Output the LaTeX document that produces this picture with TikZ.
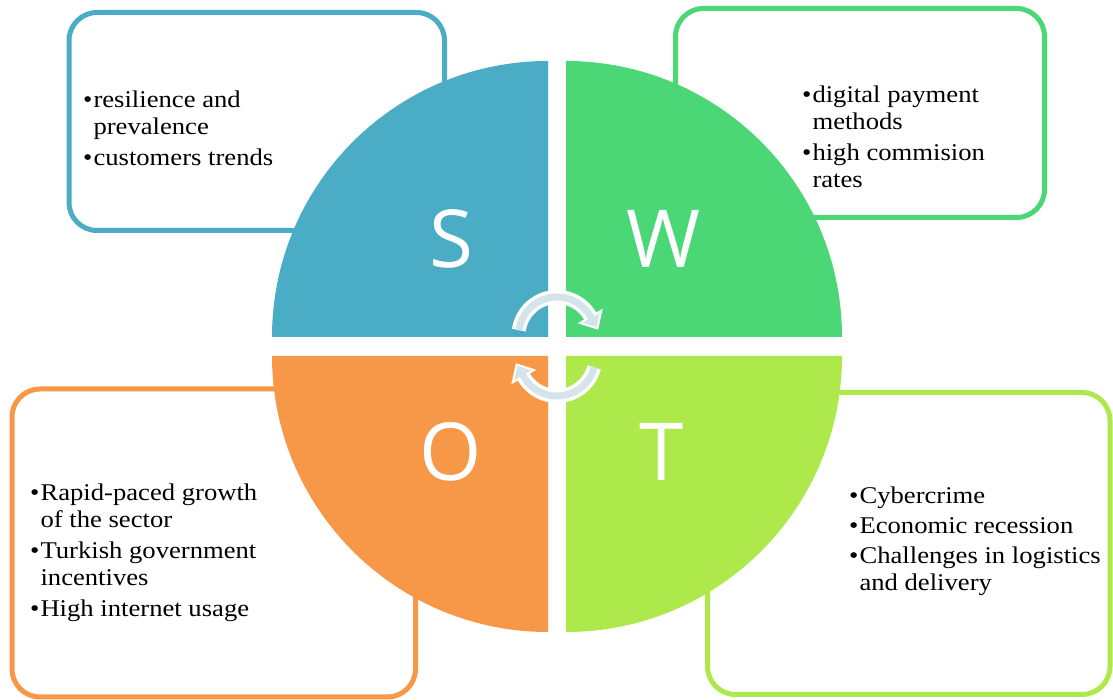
\documentclass[tikz,border=0pt]{standalone}
\usepackage{fontspec}
\setmainfont[FakeStretch=1.11]{Liberation Serif}
\newfontfamily\swotletter{Open Sans}
\usetikzlibrary{arrows.meta}
\definecolor{sblue}{RGB}{75,172,198}
\definecolor{wgreen}{RGB}{75,215,118}
\definecolor{oorange}{RGB}{247,152,72}
\definecolor{tlime}{RGB}{173,233,74}
\definecolor{cyclec}{RGB}{213,227,235}

\begin{document}
\begin{tikzpicture}[x=1pt, y=1pt,
    box/.style={draw, line width=5pt, rounded corners=28pt, fill=white},
    letter/.style={text=white, inner sep=0pt, font=\swotletter\fontsize{80}{80}\selectfont},
    points/.style={anchor=base west, inner sep=0pt, font=\fontsize{24}{26.5}\selectfont},
    cycrim/.style={draw=white, line width=14pt, -{Triangle[length=16pt, width=28pt]}},
    cycarrow/.style={draw=cyclec, line width=7pt, shorten >=3pt, -{Triangle[length=11pt, width=19pt]}}
]
\useasboundingbox (0,0) rectangle (1113,700);

% Boxes behind the wheel
\draw[box, draw=sblue] (69,469.5) rectangle (444.5,687.5);
\draw[box, draw=wgreen] (675.5,482.5) rectangle (1044.5,691.5);
\draw[box, draw=oorange] (12,3) rectangle (415.5,311);
\draw[box, draw=tlime] (707.5,5.5) rectangle (1110,307.5);

% Wheel
\coordinate (hub) at (557,353.5);
\fill[white] (hub) circle (282);
\fill[sblue] (548,363) -- ++(-276,0) arc[start angle=180, end angle=90, radius=276] -- cycle;
\fill[wgreen] (566,363) -- ++(0,276) arc[start angle=90, end angle=0, radius=276] -- cycle;
\fill[oorange] (548,344) -- ++(0,-276) arc[start angle=270, end angle=180, radius=276] -- cycle;
\fill[tlime] (566,344) -- ++(276,0) arc[start angle=0, end angle=-90, radius=276] -- cycle;

\node[letter] (s) at (451,461.5) {S};
\node[letter] (w) at (663.5,461.5) {W};
\node[letter] (o) at (451,248.5) {O};
\node[letter] (t) at (662,248.5) {T};

% Cycle arrows in the middle
\coordinate (topc) at (557,364.5);
\coordinate (botc) at (557,342.5);
\foreach \sty in {cycrim, cycarrow} {
  \draw[\sty] ([shift={(172:38.5)}]topc) arc[start angle=172, end angle=32, radius=38.5] -- ++(-60:17);
  \draw[\sty] ([shift={(-15:38.5)}]botc) arc[start angle=-15, end angle=-148, radius=38.5] -- ++(120:17);
}

% Bullet texts
\node[points] (stext) at (83,592) {\begin{tabular}[t]{@{}l@{\hspace{1pt}}l@{}}
  \textbullet & resilience and\\ & prevalence\\[5pt]
  \textbullet & customers trends
\end{tabular}};
\node[points] (wtext) at (802,597) {\begin{tabular}[t]{@{}l@{\hspace{1pt}}l@{}}
  \textbullet & digital payment\\ & methods\\[5pt]
  \textbullet & high commision\\ & rates
\end{tabular}};
\node[points] (otext) at (30,199) {\begin{tabular}[t]{@{}l@{\hspace{1pt}}l@{}}
  \textbullet & Rapid-paced growth\\ & of the sector\\[5pt]
  \textbullet & Turkish government\\ & incentives\\[5pt]
  \textbullet & High internet usage
\end{tabular}};
\node[points] (ttext) at (849,196) {\begin{tabular}[t]{@{}l@{\hspace{1pt}}l@{}}
  \textbullet & Cybercrime\\[3.5pt]
  \textbullet & Economic recession\\[3.5pt]
  \textbullet & Challenges in logistics\\ & and delivery
\end{tabular}};

\end{tikzpicture}
\end{document}
